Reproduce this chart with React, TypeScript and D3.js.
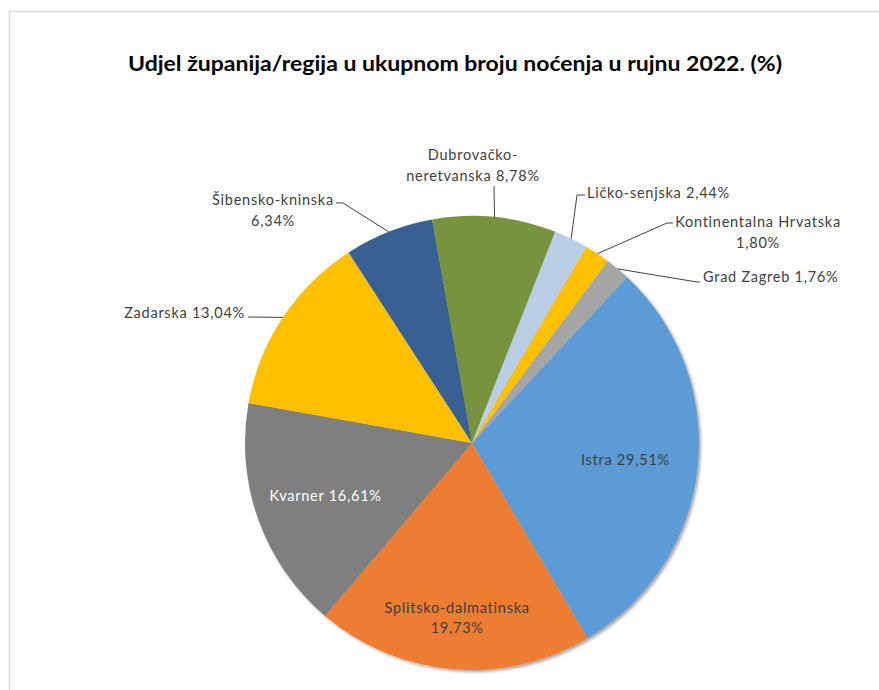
import React, { useEffect, useRef } from "react";
import * as d3 from "d3";

// shares of overnight stays, September 2022 (%)
const regions = [
  "Istra",
  "Splitsko-dalmatinska",
  "Kvarner",
  "Zadarska",
  "Šibensko-kninska",
  "Dubrovačko-neretvanska",
  "Ličko-senjska",
  "Kontinentalna Hrvatska",
  "Grad Zagreb",
];
const shares = [29.51, 19.73, 16.61, 13.04, 6.34, 8.78, 2.44, 1.8, 1.76];
const sliceColors = [
  "#5b9bd5",
  "#ed7d31",
  "#7f7f7f",
  "#ffc000",
  "#376092",
  "#77933c",
  "#b9cde5",
  "#ffc000",
  "#a5a5a5",
];

const title = "Udjel županija/regija u ukupnom broju noćenja u rujnu 2022. (%)";

// label placement (Excel puts these by hand, so they live here, not in the data)
type LabelSpec = {
  inside?: number; // radius factor for labels inside the slice
  split?: number; // 0: one line, 1: break after name, 2: break inside name
  x?: number;
  y?: number;
  anchor?: string;
  fill?: string;
  leader?: [number, number][];
};
const labelLayout: LabelSpec[] = [
  { inside: 0.68, split: 0 },
  { inside: 0.775, split: 1 },
  { inside: 0.685, split: 0, fill: "#ffffff" },
  { x: 245, y: 318, anchor: "end", split: 0, leader: [[248, 317]] },
  { x: 273, y: 205, split: 1, leader: [[343, 203], [336, 203]] },
  { x: 473, y: 160, split: 2, leader: [[494, 186]] },
  { x: 587, y: 198, anchor: "start", split: 0, leader: [[577, 195], [585, 195]] },
  { x: 758, y: 227, split: 1, leader: [[667, 223], [673, 223]] },
  { x: 703, y: 282, anchor: "start", split: 0, leader: [[697, 282], [700, 282]] },
];

const W = 879;
const H = 690;
const cx = 472;
const cy = 443;
const R = 227;
const FONT = "Lato, 'Open Sans', sans-serif";

const pct = (v: number) => d3.format(".2f")(v).replace(".", ",") + "%";

const App = () => {
  const ref = useRef<SVGSVGElement>(null);

  useEffect(() => {
    const svg = d3.select(ref.current);
    svg.selectAll("*").remove();

    const defs = svg.append("defs");
    const f = defs
      .append("filter")
      .attr("id", "pieShadow")
      .attr("x", "-10%")
      .attr("y", "-10%")
      .attr("width", "120%")
      .attr("height", "120%");
    f.append("feDropShadow")
      .attr("dx", 2)
      .attr("dy", 2)
      .attr("stdDeviation", 1.8)
      .attr("flood-color", "#000")
      .attr("flood-opacity", 0.35);

    svg
      .append("rect")
      .attr("x", 9.5)
      .attr("y", 11.5)
      .attr("width", W + 20)
      .attr("height", H + 20)
      .attr("fill", "#fff")
      .attr("stroke", "#d9d9d9")
      .attr("stroke-width", 1.5);

    svg
      .append("text")
      .attr("x", 455)
      .attr("y", 71)
      .attr("text-anchor", "middle")
      .attr("font-family", FONT)
      .attr("font-weight", "bold")
      .attr("font-size", 20)
      .attr("fill", "#000")
      .attr("textLength", 654)
      .attr("lengthAdjust", "spacingAndGlyphs")
      .text(title);

    const startDeg = 43.1;
    const pie = d3
      .pie<number>()
      .sort(null)
      .value((d) => d)
      .startAngle((startDeg * Math.PI) / 180)
      .endAngle(((startDeg + 360) * Math.PI) / 180);
    const arcs = pie(shares);
    const arc = d3.arc<d3.PieArcDatum<number>>().innerRadius(0).outerRadius(R);

    const g = svg.append("g").attr("transform", `translate(${cx},${cy})`);
    g.append("g")
      .attr("filter", "url(#pieShadow)")
      .selectAll("path")
      .data(arcs)
      .join("path")
      .attr("d", arc)
      .attr("fill", (_, i) => sliceColors[i]);

    const edge = d3.arc<d3.PieArcDatum<number>>().innerRadius(R).outerRadius(R);

    arcs.forEach((a, i) => {
      const spec = labelLayout[i];
      const name = regions[i];
      const val = pct(shares[i]);
      let lines: string[];
      if (spec.split === 1) lines = [name, val];
      else if (spec.split === 2) {
        const k = name.indexOf("-") + 1;
        lines = [name.slice(0, k), name.slice(k) + " " + val];
      } else lines = [name + " " + val];

      let tx: number;
      let ty: number;
      if (spec.inside) {
        const inner = d3
          .arc<d3.PieArcDatum<number>>()
          .innerRadius(R * spec.inside)
          .outerRadius(R * spec.inside);
        const [px, py] = inner.centroid(a);
        tx = cx + px;
        ty = cy + py + 5 - ((lines.length - 1) * 21) / 2;
      } else {
        tx = spec.x!;
        ty = spec.y!;
        const [ex, ey] = edge.centroid(a);
        const pts: [number, number][] = [[cx + ex, cy + ey], ...(spec.leader || [])];
        svg
          .append("path")
          .attr("d", d3.line()(pts))
          .attr("fill", "none")
          .attr("stroke", "#404040")
          .attr("stroke-width", 1);
      }

      const t = svg
        .append("text")
        .attr("x", tx)
        .attr("y", ty)
        .attr("text-anchor", spec.anchor || "middle")
        .attr("font-family", FONT)
        .attr("font-size", 14.5)
        .attr("letter-spacing", 0.75)
        .attr("fill", spec.fill || "#404040");
      lines.forEach((l, j) => {
        t.append("tspan")
          .attr("x", tx)
          .attr("dy", j === 0 ? 0 : 20.5)
          .text(l);
      });
    });
  });

  return (
    <svg
      ref={ref}
      width={W}
      height={H}
      style={{ position: "absolute", left: 0, top: 0 }}
    />
  );
};

export default App;
